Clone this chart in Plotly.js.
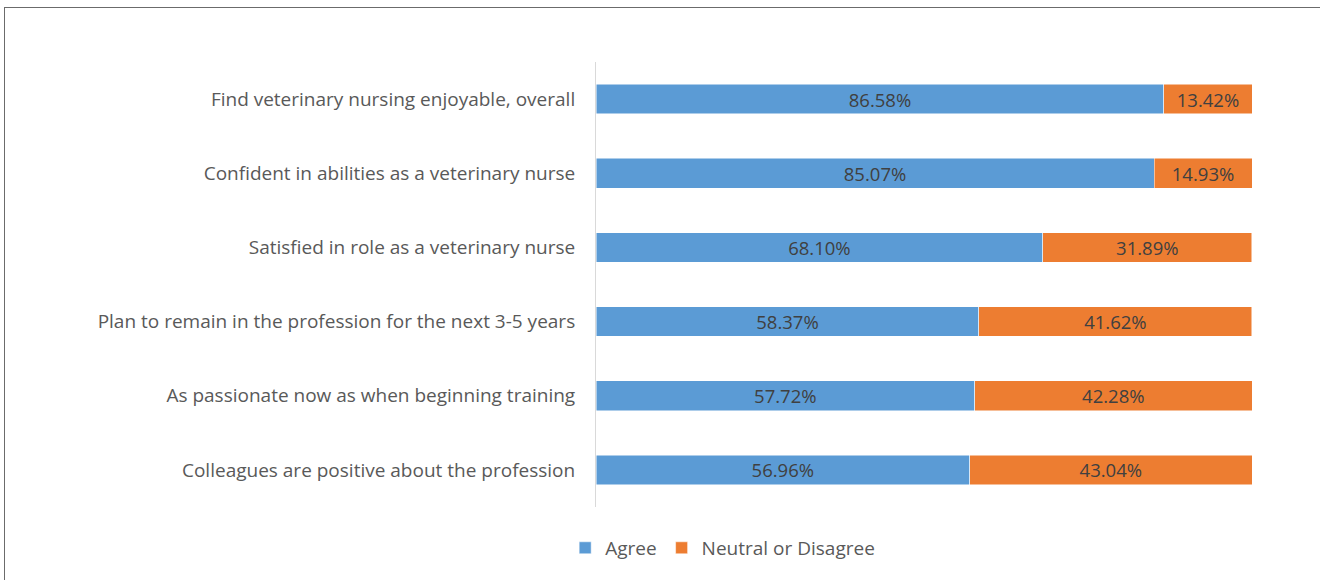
<!DOCTYPE html>
<html><head><meta charset="utf-8">
<script src="https://cdn.plot.ly/plotly-3.0.1.min.js"></script>
<style>
html,body{margin:0;padding:0;background:#fff;overflow:hidden;}
#frame{position:absolute;left:4px;top:7px;width:1330px;height:590px;border:1px solid #6b6b6b;box-sizing:border-box;}
#chart{position:absolute;left:0;top:0;width:1320px;height:580px;}
</style></head>
<body>
<div id="frame"></div>
<div id="chart"></div>
<script>
const categories = [
  "Find veterinary nursing enjoyable, overall",
  "Confident in abilities as a veterinary nurse",
  "Satisfied in role as a veterinary nurse",
  "Plan to remain in the profession for the next 3-5 years",
  "As passionate now as when beginning training",
  "Colleagues are positive about the profession"
];
const agree = [86.58, 85.07, 68.10, 58.37, 57.72, 56.96];
const neutral = [13.42, 14.93, 31.89, 41.62, 42.28, 43.04];
const seriesNames = ["Agree", "Neutral or Disagree"];

const FONT = '"Open Sans", sans-serif';
const common = {
  type: 'bar', orientation: 'h', y: categories, width: 0.4,
  texttemplate: '%{x:.2f}%', textposition: 'inside', insidetextanchor: 'middle',
  textfont: {family: FONT, size: 18.5, color: '#404040'},
  hoverinfo: 'none', constraintext: 'none'
};
const data = [
  Object.assign({}, common, {x: agree, name: seriesNames[0], marker: {color: '#5B9BD5', line: {color: '#ffffff', width: 0.5}}}),
  Object.assign({}, common, {x: neutral, name: seriesNames[1], marker: {color: '#ED7D31', line: {color: '#ffffff', width: 0.5}}})
];
const layout = {
  width: 1320, height: 580,
  paper_bgcolor: 'rgba(0,0,0,0)', plot_bgcolor: 'rgba(0,0,0,0)',
  barmode: 'stack',
  margin: {l: 596, r: 68, t: 62, b: 73},
  font: {family: FONT, color: '#595959', size: 19},
  xaxis: {range: [0, 100], showgrid: false, zeroline: false, showticklabels: false, showline: false, fixedrange: true},
  yaxis: {type: 'category', categoryorder: 'array', categoryarray: categories, autorange: 'reversed',
          showline: true, linecolor: '#d9d9d9', linewidth: 1, showgrid: false, ticks: '', ticklabelstandoff: 16,
          tickfont: {family: FONT, size: 19, color: '#595959'}},
  showlegend: true,
  legend: {orientation: 'h', x: -0.047, xanchor: 'left', y: -0.092, yanchor: 'middle',
           itemwidth: 30, itemgap: 0,
           font: {family: FONT, size: 19, color: '#595959'}, traceorder: 'normal', bgcolor: 'rgba(0,0,0,0)'}
};
Plotly.newPlot('chart', data, layout, {displayModeBar: false, staticPlot: true});
</script>
</body></html>
